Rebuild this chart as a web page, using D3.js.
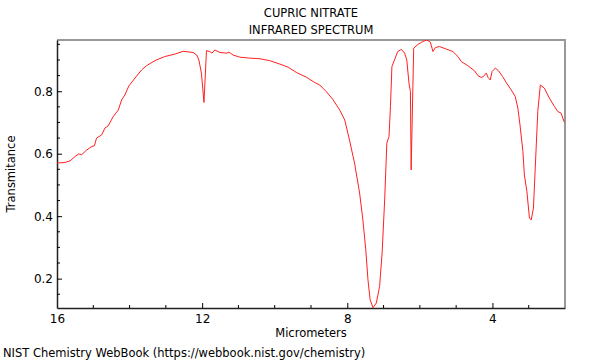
<!DOCTYPE html>
<html>
<head>
<meta charset="utf-8">
<script src="https://cdn.jsdelivr.net/npm/d3@7"></script>
<style>
  body { margin: 0; background: #fff; }
  svg { display: block; font-family: "DejaVu Sans", sans-serif; }
</style>
</head>
<body>
<svg id="chart" width="600" height="360"></svg>
<script>
// spectrum: wavelength (micrometers) and transmittance
const wavelength = [
  16.00, 15.78, 15.64, 15.50, 15.41, 15.32, 15.18, 15.04, 14.97, 14.91,
  14.77, 14.68, 14.59, 14.45, 14.31, 14.22, 14.13, 14.02, 13.85, 13.67,
  13.53, 13.30, 13.03, 12.75, 12.52, 12.39, 12.25, 12.15, 12.09, 12.02,
  11.95, 11.88, 11.79, 11.73, 11.65, 11.51, 11.33, 11.26, 11.15, 10.96,
  10.69, 10.41, 10.14, 9.86, 9.63, 9.40, 9.13, 8.90, 8.76, 8.58,
  8.40, 8.21, 8.07, 7.94, 7.80, 7.66, 7.57, 7.49, 7.43, 7.37,
  7.29, 7.20, 7.11, 7.04, 6.97, 6.91, 6.85, 6.81, 6.77, 6.70,
  6.61, 6.51, 6.42, 6.36, 6.30, 6.26, 6.24, 6.17, 6.05, 5.92,
  5.81, 5.71, 5.64, 5.57, 5.46, 5.27, 5.09, 4.95, 4.86, 4.68,
  4.49, 4.40, 4.31, 4.25, 4.17, 4.12, 4.06, 4.01, 3.92, 3.83,
  3.72, 3.61, 3.48, 3.37, 3.30, 3.24, 3.16, 3.12, 3.05, 2.98,
  2.93, 2.87, 2.82, 2.75, 2.68, 2.57, 2.43, 2.29, 2.20, 2.11,
  2.02
];
const transmittance = [
  0.570, 0.572, 0.577, 0.591, 0.599, 0.597, 0.612, 0.623, 0.625, 0.650,
  0.660, 0.682, 0.689, 0.719, 0.740, 0.772, 0.788, 0.817, 0.842, 0.868,
  0.882, 0.898, 0.911, 0.919, 0.928, 0.926, 0.924, 0.916, 0.900, 0.858,
  0.764, 0.930, 0.927, 0.922, 0.932, 0.924, 0.922, 0.925, 0.916, 0.909,
  0.906, 0.904, 0.898, 0.887, 0.877, 0.860, 0.845, 0.828, 0.820, 0.799,
  0.774, 0.740, 0.708, 0.644, 0.570, 0.474, 0.388, 0.292, 0.196, 0.132,
  0.107, 0.122, 0.175, 0.282, 0.452, 0.634, 0.655, 0.751, 0.879, 0.900,
  0.927, 0.934, 0.922, 0.900, 0.826, 0.799, 0.548, 0.938, 0.950, 0.959,
  0.964, 0.957, 0.927, 0.940, 0.943, 0.935, 0.927, 0.911, 0.895, 0.882,
  0.865, 0.850, 0.844, 0.847, 0.858, 0.844, 0.836, 0.863, 0.874, 0.865,
  0.847, 0.826, 0.804, 0.783, 0.746, 0.692, 0.607, 0.532, 0.479, 0.394,
  0.388, 0.426, 0.554, 0.735, 0.820, 0.810, 0.778, 0.751, 0.735, 0.730,
  0.701
];

const xTicks = [16, 12, 8, 4];
const yTicks = [0.2, 0.4, 0.6, 0.8];
const titleLines = ['CUPRIC NITRATE', 'INFRARED SPECTRUM'];

const svg = d3.select('#chart');
const plot = { left: 57, right: 565, top: 40, bottom: 308 };
const fontSize = 11.5;

// wavelength runs right to left
const x = d3.scaleLinear().domain([16, 2]).range([plot.left, plot.right]);
const y = d3.scaleLinear().domain([0.106, 0.964]).range([plot.bottom, plot.top]);

svg.append('clipPath').attr('id', 'clip')
  .append('rect')
  .attr('x', plot.left).attr('y', plot.top)
  .attr('width', plot.right - plot.left).attr('height', plot.bottom - plot.top);

// frame: grey top and right
svg.append('path')
  .attr('d', `M${plot.left},${plot.top}H${plot.right}V${plot.bottom}`)
  .attr('fill', 'none')
  .attr('stroke', '#999')
  .attr('stroke-width', 2);

// x axis with minor ticks every micrometer
const xMinor = d3.range(15, 2, -1).filter(v => !xTicks.includes(v));
const gx = svg.append('g').attr('transform', `translate(0,${plot.bottom})`);
gx.call(d3.axisBottom(x).tickValues(xTicks).tickSizeInner(-5).tickSizeOuter(0).tickPadding(6).tickFormat(d3.format('d')));
gx.append('g').selectAll('line').data(xMinor).join('line')
  .attr('x1', d => x(d)).attr('x2', d => x(d))
  .attr('y1', 0).attr('y2', -3)
  .attr('stroke', '#000');

// y axis with minor ticks every 0.05
const yMinor = d3.range(0.15, 0.96, 0.05).map(v => +v.toFixed(2)).filter(v => !yTicks.includes(v));
const gy = svg.append('g').attr('transform', `translate(${plot.left},0)`);
gy.call(d3.axisLeft(y).tickValues(yTicks).tickSizeInner(-5).tickSizeOuter(0).tickPadding(4).tickFormat(d3.format('.1f')));
gy.append('g').selectAll('line').data(yMinor).join('line')
  .attr('y1', d => y(d)).attr('y2', d => y(d))
  .attr('x1', 0).attr('x2', 3)
  .attr('stroke', '#000');

[gx, gy].forEach(g => {
  g.select('.domain').attr('stroke', '#222').attr('stroke-width', 1.5);
  g.selectAll('.tick text').attr('font-size', 12).attr('fill', '#000')
    .attr('font-family', '"DejaVu Sans", sans-serif');
});

// the spectrum
const line = d3.line()
  .x((d, i) => x(wavelength[i]))
  .y(d => y(d));

svg.append('path')
  .datum(transmittance)
  .attr('clip-path', 'url(#clip)')
  .attr('fill', 'none')
  .attr('stroke', '#ff2020')
  .attr('stroke-width', 1)
  .attr('d', line);

// titles and labels
svg.selectAll('.title').data(titleLines).join('text')
  .attr('class', 'title')
  .attr('x', (plot.left + plot.right) / 2)
  .attr('y', (d, i) => 17 + i * 17)
  .attr('text-anchor', 'middle')
  .attr('font-size', fontSize)
  .text(d => d);

svg.append('text')
  .attr('x', (plot.left + plot.right) / 2)
  .attr('y', 337)
  .attr('text-anchor', 'middle')
  .attr('font-size', fontSize)
  .text('Micrometers');

svg.append('text')
  .attr('transform', 'translate(15,174) rotate(-90)')
  .attr('text-anchor', 'middle')
  .attr('font-size', fontSize)
  .text('Transmitance');

svg.append('text')
  .attr('x', 3)
  .attr('y', 357)
  .attr('font-size', fontSize)
  .text('NIST Chemistry WebBook (https://webbook.nist.gov/chemistry)');
</script>
</body>
</html>
